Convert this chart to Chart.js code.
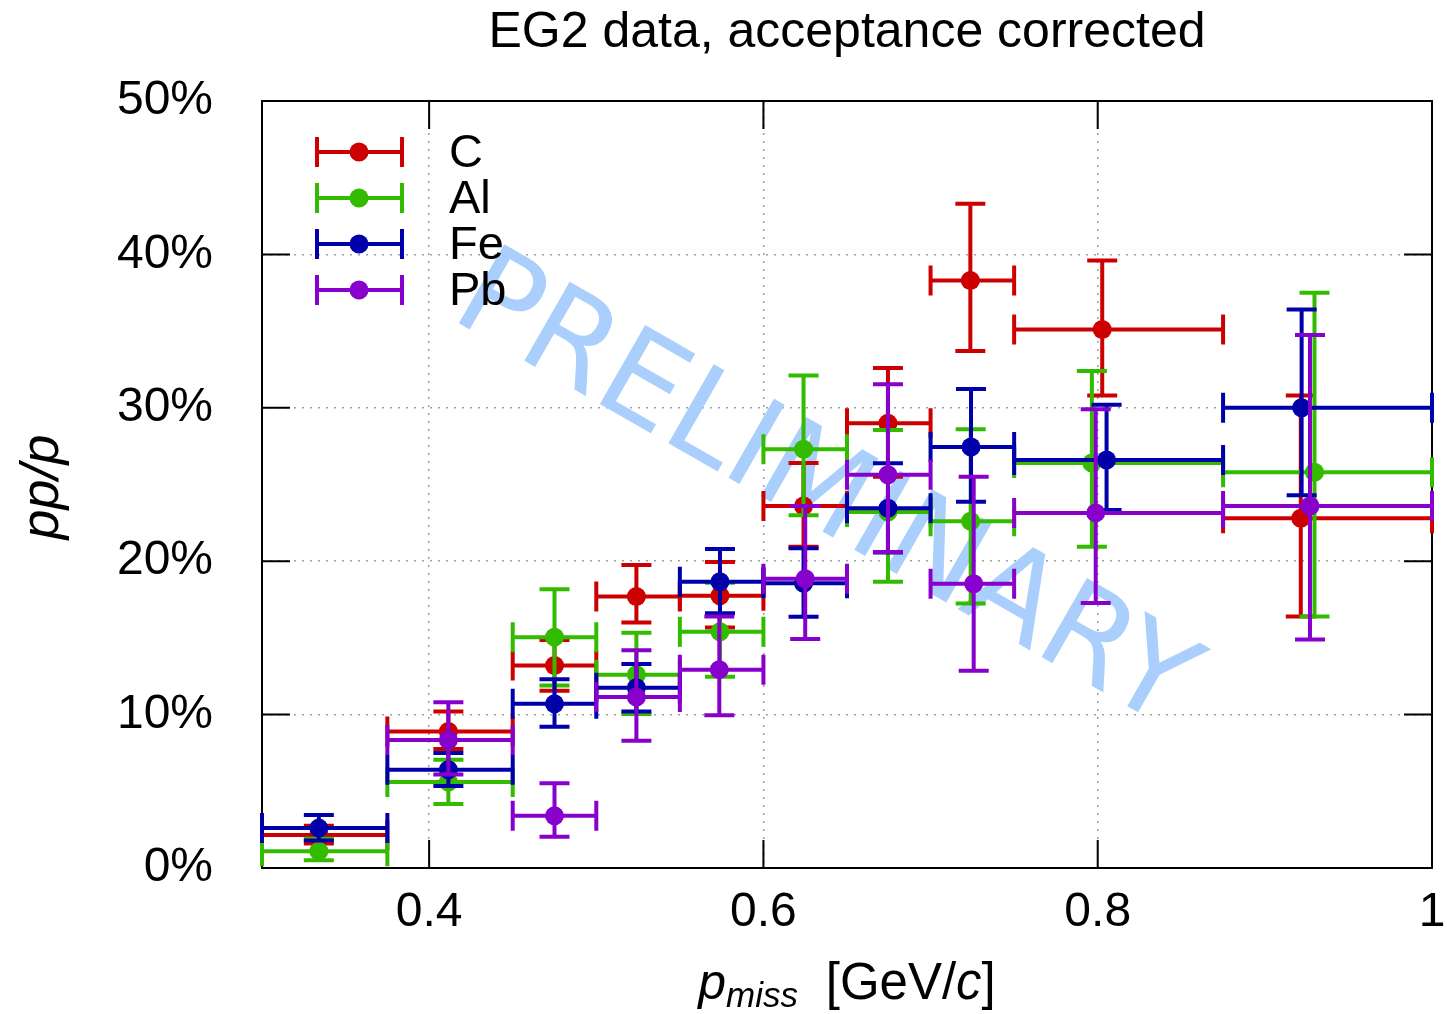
<!DOCTYPE html>
<html>
<head>
<meta charset="utf-8">
<title>EG2 pp/p</title>
<script src="https://cdn.jsdelivr.net/npm/chart.js@4.4.1/dist/chart.umd.min.js"></script>
<style>
  html, body { margin: 0; padding: 0; background: #fff; }
</style>
</head>
<body>
<canvas id="myChart" width="1447" height="1014"></canvas>
<script>
// pmiss bins [GeV/c]
const binLo = [0.3, 0.375, 0.45, 0.5, 0.55, 0.6, 0.65, 0.7, 0.75, 0.875];
const binHi = [0.375, 0.45, 0.5, 0.55, 0.6, 0.65, 0.7, 0.75, 0.875, 1.0];

// pp/p in percent, with lower/upper ends of the error bars
const cX  = [0.334, 0.4115, 0.475, 0.524, 0.574, 0.624, 0.6745, 0.7238, 0.8027, 0.9215];
const cY  = [2.15, 8.9, 13.2, 17.7, 17.75, 23.6, 29.0, 38.3, 35.1, 22.8];
const cLo = [1.6, 7.75, 11.56, 16.0, 15.67, 20.95, 25.5, 33.7, 30.8, 16.4];
const cHi = [2.76, 10.2, 14.86, 19.75, 19.95, 26.4, 32.6, 43.3, 39.6, 30.8];

const alX  = [0.334, 0.4115, 0.475, 0.524, 0.574, 0.624, 0.6745, 0.724, 0.7965, 0.9297];
const alY  = [1.1, 5.6, 15.05, 12.6, 15.4, 27.3, 23.2, 22.6, 26.4, 25.8];
const alLo = [0.5, 4.17, 11.9, 10.04, 12.47, 23.0, 18.66, 17.25, 20.95, 16.4];
const alHi = [1.9, 7.05, 18.17, 15.34, 18.6, 32.1, 28.55, 28.6, 32.4, 37.5];

const feX  = [0.334, 0.4115, 0.475, 0.524, 0.574, 0.624, 0.6745, 0.7242, 0.8053, 0.922];
const feY  = [2.6, 6.4, 10.7, 11.75, 18.66, 18.56, 23.45, 27.45, 26.6, 30.0];
const feLo = [1.8, 5.35, 9.21, 10.2, 16.6, 16.38, 20.57, 23.88, 23.34, 24.3];
const feHi = [3.45, 7.5, 12.3, 13.3, 20.8, 20.84, 26.38, 31.23, 30.2, 36.4];

const pbX  = [null, 0.4115, 0.475, 0.524, 0.5736, 0.625, 0.6745, 0.7258, 0.7988, 0.927];
const pbY  = [null, 8.35, 3.4, 11.15, 12.93, 18.85, 25.64, 18.53, 23.15, 23.6];
const pbLo = [null, 6.1, 2.04, 8.3, 9.95, 14.93, 20.6, 12.86, 17.28, 14.9];
const pbHi = [null, 10.8, 5.52, 14.2, 16.4, 23.6, 31.53, 25.5, 29.9, 34.75];

const xTicks = [0.4, 0.6, 0.8, 1.0];
const yTicks = [0, 10, 20, 30, 40, 50];

const FONT = '"Liberation Sans", Arial, sans-serif';
const BAR_WIDTH = 4;

function makePoints(xs, ys, lo, hi) {
  const pts = [];
  xs.forEach((x, i) => {
    if (x === null) return;
    pts.push({ x: x, y: ys[i], yLo: lo[i], yHi: hi[i], xLo: binLo[i], xHi: binHi[i] });
  });
  return pts;
}

function series(label, color, pts, order) {
  return {
    label: label,
    data: pts,
    order: order,
    backgroundColor: color,
    borderColor: color,
    pointRadius: 9.5,
    pointHoverRadius: 9.5,
    pointBorderWidth: 0,
    showLine: false,
    clip: false
  };
}

// horizontal bin bars and vertical error bars, drawn right before each set's points
const errorBars = {
  id: 'errorBars',
  beforeDatasetDraw(chart, args) {
    const ds = chart.data.datasets[args.index];
    const xs = chart.scales.x;
    const ys = chart.scales.y;
    const ctx = chart.ctx;
    const cap = 15;
    ctx.save();
    ctx.strokeStyle = ds.borderColor;
    ctx.lineWidth = BAR_WIDTH;
    ctx.lineCap = 'butt';
    ds.data.forEach(pt => {
      const px = xs.getPixelForValue(pt.x);
      const py = ys.getPixelForValue(pt.y);
      const x0 = xs.getPixelForValue(pt.xLo);
      const x1 = xs.getPixelForValue(pt.xHi);
      const y0 = ys.getPixelForValue(pt.yLo);
      const y1 = ys.getPixelForValue(pt.yHi);
      ctx.beginPath();
      ctx.moveTo(x0, py); ctx.lineTo(x1, py);
      ctx.moveTo(x0, py - cap); ctx.lineTo(x0, py + cap);
      ctx.moveTo(x1, py - cap); ctx.lineTo(x1, py + cap);
      ctx.moveTo(px, y0); ctx.lineTo(px, y1);
      ctx.moveTo(px - cap, y0); ctx.lineTo(px + cap, y0);
      ctx.moveTo(px - cap, y1); ctx.lineTo(px + cap, y1);
      ctx.stroke();
    });
    ctx.restore();
  }
};

// watermark, frame and inward ticks under the data
const backdrop = {
  id: 'backdrop',
  beforeDatasetsDraw(chart) {
    const ctx = chart.ctx;
    const a = chart.chartArea;
    const xs = chart.scales.x;
    const ys = chart.scales.y;

    ctx.save();
    ctx.translate(xs.getPixelForValue(0.4115), ys.getPixelForValue(35.9));
    ctx.rotate(29.8 * Math.PI / 180);
    ctx.fillStyle = 'rgb(170, 207, 252)';
    ctx.font = '125px "DejaVu Sans", sans-serif';
    ctx.textAlign = 'left';
    ctx.textBaseline = 'alphabetic';
    ctx.fillText('PRELIMINARY', 0, 0);
    ctx.restore();

    ctx.save();
    ctx.strokeStyle = '#000';
    ctx.lineWidth = 2;
    ctx.strokeRect(a.left, a.top, a.right - a.left, a.bottom - a.top);
    const tl = 28;
    ctx.beginPath();
    yTicks.slice(1, -1).forEach(v => {
      const y = ys.getPixelForValue(v);
      ctx.moveTo(a.left, y); ctx.lineTo(a.left + tl, y);
      ctx.moveTo(a.right, y); ctx.lineTo(a.right - tl, y);
    });
    xTicks.slice(0, -1).forEach(v => {
      const x = xs.getPixelForValue(v);
      ctx.moveTo(x, a.bottom); ctx.lineTo(x, a.bottom - tl);
      ctx.moveTo(x, a.top); ctx.lineTo(x, a.top + tl);
    });
    ctx.stroke();
    ctx.restore();
  }
};

// title, axis titles and the key
const labels = {
  id: 'labels',
  afterDraw(chart) {
    const ctx = chart.ctx;
    const a = chart.chartArea;
    const mid = (a.left + a.right) / 2;
    ctx.save();
    ctx.fillStyle = '#000';
    ctx.textBaseline = 'alphabetic';

    ctx.font = '50px ' + FONT;
    ctx.textAlign = 'center';
    ctx.fillText('EG2 data, acceptance corrected', mid, 47);

    // x title: p_miss [GeV/c]
    const parts = [
      { t: 'p', f: 'italic 50px ' + FONT, dy: 0 },
      { t: 'miss', f: 'italic 35px ' + FONT, dy: 8 },
      { t: '  ', f: '50px ' + FONT, dy: 0 },
      { t: '[GeV/', f: '51px ' + FONT, dy: 0 },
      { t: 'c', f: 'italic 51px ' + FONT, dy: 0 },
      { t: ']', f: '51px ' + FONT, dy: 0 }
    ];
    let total = 0;
    parts.forEach(p => { ctx.font = p.f; p.w = ctx.measureText(p.t).width; total += p.w; });
    let x = mid - total / 2;
    ctx.textAlign = 'left';
    parts.forEach(p => {
      ctx.font = p.f;
      ctx.fillText(p.t, x, 999 + p.dy);
      x += p.w;
    });

    // y title
    ctx.save();
    ctx.translate(43, 487);
    ctx.rotate(-Math.PI / 2);
    ctx.font = 'italic 54px ' + FONT;
    ctx.textAlign = 'center';
    ctx.textBaseline = 'middle';
    ctx.fillText('pp/p', 0, 0);
    ctx.restore();

    // key
    const keyX0 = a.left + 55, keyX1 = a.left + 140, keyDot = a.left + 97;
    chart.data.datasets.forEach((ds, i) => {
      const y = a.top + 51 + i * 46;
      ctx.strokeStyle = ds.borderColor;
      ctx.fillStyle = ds.borderColor;
      ctx.lineWidth = BAR_WIDTH;
      ctx.beginPath();
      ctx.moveTo(keyX0, y); ctx.lineTo(keyX1, y);
      ctx.moveTo(keyX0, y - 15); ctx.lineTo(keyX0, y + 15);
      ctx.moveTo(keyX1, y - 15); ctx.lineTo(keyX1, y + 15);
      ctx.stroke();
      ctx.beginPath();
      ctx.arc(keyDot, y, 9.5, 0, Math.PI * 2);
      ctx.fill();
      ctx.fillStyle = '#000';
      ctx.font = '47px ' + FONT;
      ctx.textAlign = 'left';
      ctx.textBaseline = 'middle';
      ctx.fillText(ds.label, a.left + 187, y + 2);
    });
    ctx.restore();
  }
};

const chartLayout = document.getElementById('myChart');

const myChart = new Chart(chartLayout, {
  type: 'scatter',
  data: {
    datasets: [
      series('C', '#cc0000', makePoints(cX, cY, cLo, cHi), 4),
      series('Al', '#33bb00', makePoints(alX, alY, alLo, alHi), 3),
      series('Fe', '#0000aa', makePoints(feX, feY, feLo, feHi), 2),
      series('Pb', '#8800cc', makePoints(pbX, pbY, pbLo, pbHi), 1)
    ]
  },
  options: {
    responsive: false,
    animation: false,
    devicePixelRatio: 1,
    layout: { padding: { top: 101, right: 15, bottom: 0, left: 0 } },
    plugins: {
      legend: { display: false },
      title: { display: false },
      tooltip: { enabled: false }
    },
    scales: {
      x: {
        type: 'linear',
        min: 0.3,
        max: 1.0,
        afterFit: (scale) => {
          scale.height = 146;
          scale.paddingLeft = 0;
          scale.paddingRight = 0;
        },
        afterBuildTicks: (scale) => { scale.ticks = xTicks.map(v => ({ value: v })); },
        grid: { color: '#a0a0a0', lineWidth: 1.5, drawTicks: false },
        border: { display: false, dash: [2, 6] },
        ticks: {
          color: '#000',
          padding: 16,
          maxRotation: 0,
          font: { family: FONT, size: 48 },
          callback: (v) => String(v)
        }
      },
      y: {
        min: 0,
        max: 50,
        afterFit: (scale) => { scale.width = 262; },
        afterBuildTicks: (scale) => { scale.ticks = yTicks.map(v => ({ value: v })); },
        grid: { color: '#a0a0a0', lineWidth: 1.5, drawTicks: false },
        border: { display: false, dash: [2, 6] },
        ticks: {
          color: '#000',
          padding: 49,
          font: { family: FONT, size: 48 },
          callback: (v) => v + '%'
        }
      }
    }
  },
  plugins: [backdrop, errorBars, labels]
});
</script>
</body>
</html>
